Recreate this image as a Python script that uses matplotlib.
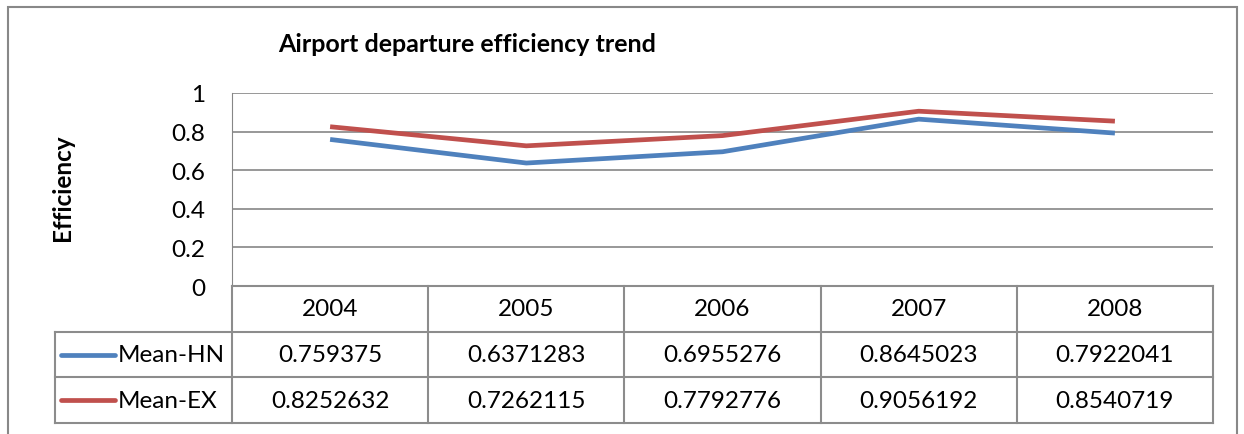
import matplotlib
matplotlib.use('Agg')
import matplotlib.pyplot as plt

plt.rcParams['font.family'] = ['Lato', 'DejaVu Sans']

years = ['2004', '2005', '2006', '2007', '2008']
mean_hn = [0.759375, 0.6371283, 0.6955276, 0.8645023, 0.7922041]
mean_ex = [0.8252632, 0.7262115, 0.7792776, 0.9056192, 0.8540719]
series_names = ['Mean-HN', 'Mean-EX']
series_colors = ['#4F81BD', '#C0504D']

W, H = 1244, 435
fig = plt.figure(figsize=(W / 100, H / 100), dpi=100)
grid_col = '#868686'
fs = 17.5

# outer frame
fig.patches.append(plt.Rectangle((8 / W, -0.01), (1237 - 8) / W, (H - 8) / H + 0.01,
                                 transform=fig.transFigure, fill=False,
                                 edgecolor='#888888', lw=1.5))

# plot area
ax = fig.add_axes([232 / W, (H - 287) / H, 981 / W, 193 / H])
ax.set_xlim(-0.5, 4.5)
ax.set_ylim(0, 1)
ax.set_yticks([0, 0.2, 0.4, 0.6, 0.8, 1])
ax.set_yticklabels(['0', '0.2', '0.4', '0.6', '0.8', '1'], fontsize=fs)
ax.set_xticks([])
ax.grid(axis='y', color=grid_col, lw=1.2)
for s in ['top', 'right', 'bottom']:
    ax.spines[s].set_visible(False)
ax.spines['left'].set_color(grid_col)
ax.tick_params(axis='y', length=0, pad=19)
x = list(range(len(years)))
for vals, c in zip([mean_hn, mean_ex], series_colors):
    ax.plot(x, vals, color=c, lw=3.4, solid_capstyle='butt')

fig.text(467 / W, 1 - 44 / H, 'Airport departure efficiency trend',
         fontsize=18, fontweight='bold', ha='center', va='center')
fig.text(62 / W, 1 - 188 / H, 'Efficiency', fontsize=17.5, fontweight='bold',
         rotation=90, ha='center', va='center')

# data table below the axis
tb = fig.add_axes([232 / W, (H - 424) / H, 981 / W, 137 / H])
tb.set_xlim(-0.5, 4.5)
tb.set_ylim(3, 0)
tb.axis('off')
lc = '#8C8C8C'
xl = -0.5 - 177 / 196.2
kw = dict(color=lc, lw=1.5, clip_on=False, solid_capstyle='projecting')
tb.plot([-0.5, 4.5], [0, 0], **kw)
for r in [1, 2, 3]:
    tb.plot([xl, 4.5], [r, r], **kw)
for i in range(len(years) + 1):
    tb.plot([i - 0.5, i - 0.5], [0, 3], **kw)
tb.plot([xl, xl], [1, 3], **kw)

for i, yr in enumerate(years):
    tb.text(i, 0.5, yr, ha='center', va='center', fontsize=fs)
for r, (name, vals, c) in enumerate(zip(series_names, [mean_hn, mean_ex], series_colors)):
    yc = r + 1.5
    for i, v in enumerate(vals):
        tb.text(i, yc, str(v), ha='center', va='center', fontsize=fs)
    tb.plot([xl + 6 / 196.2, xl + 60 / 196.2], [yc, yc], color=c, lw=3.4,
            clip_on=False, solid_capstyle='round')
    tb.text(xl + 63 / 196.2, yc, name, ha='left', va='center', fontsize=fs)

fig.savefig('out.png', dpi=100)
